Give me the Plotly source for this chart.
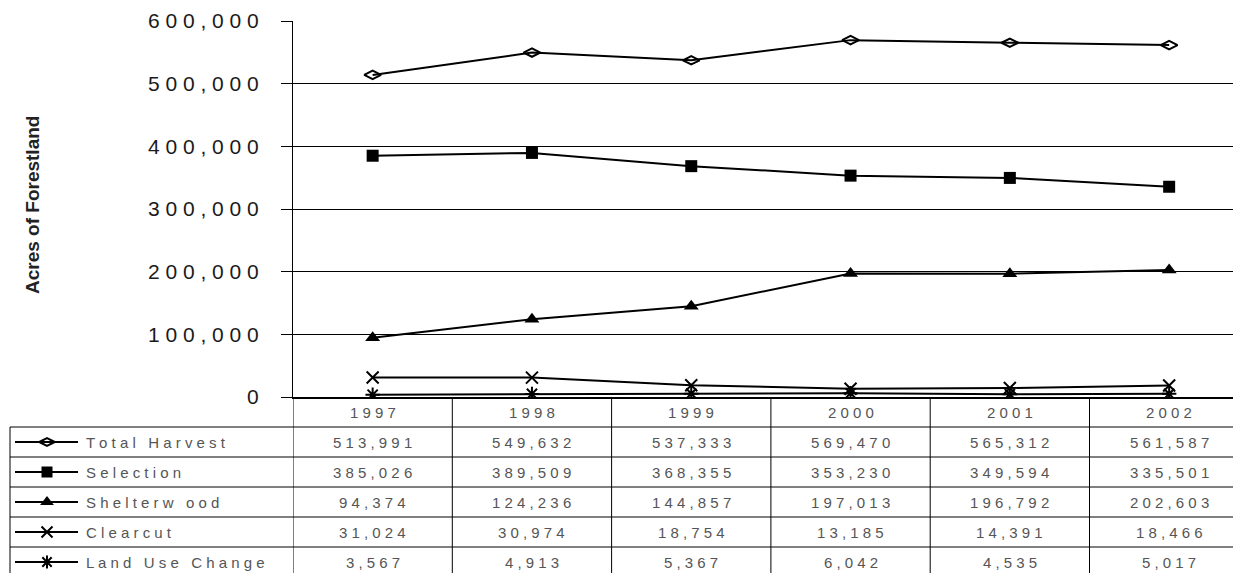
import plotly.graph_objects as go

# ---------------- data ----------------
years = ["1997", "1998", "1999", "2000", "2001", "2002"]
series_names = ["Total Harvest", "Selection", "Shelterw ood", "Clearcut", "Land Use Change"]
total_harvest = [513991, 549632, 537333, 569470, 565312, 561587]
selection = [385026, 389509, 368355, 353230, 349594, 335501]
shelterwood = [94374, 124236, 144857, 197013, 196792, 202603]
clearcut = [31024, 30974, 18754, 13185, 14391, 18466]
land_use_change = [3567, 4913, 5367, 6042, 4535, 5017]
y_ticks = [0, 100000, 200000, 300000, 400000, 500000, 600000]

series_values = [total_harvest, selection, shelterwood, clearcut, land_use_change]
symbols = ["diamond-wide-open", "square", "triangle-up", "x-thin-open", "asterisk-open"]
sizes = [12, 12, 13, 12, 12]

W, H = 1233, 573
FONT = "Arial, Liberation Sans, sans-serif"


def px(x):
    return x / W


def py(y):
    return 1 - y / H


def spaced(s):
    return " ".join(list(s))


plot_left, plot_top, plot_bottom = 293, 21, 397
header_bottom = 427
row_h = 30
legend_left = 10


def marker_style(sym, sz):
    return dict(symbol=sym, size=sz, color="black",
                line=dict(color="black", width=2 if "open" in sym else 0))


fig = go.Figure()

for name, vals, sym, sz in zip(series_names, series_values, symbols, sizes):
    fig.add_trace(go.Scatter(
        x=years, y=vals, mode="lines+markers", name=name,
        line=dict(color="black", width=2),
        marker=marker_style(sym, sz),
        showlegend=False, xaxis="x", yaxis="y",
    ))

# legend symbols inside the table (paper-like overlay axis)
for r, (name, sym, sz) in enumerate(zip(series_names, symbols, sizes)):
    yc = py(header_bottom + row_h * (r + 0.5))
    fig.add_trace(go.Scatter(
        x=[px(15), px(78)], y=[yc, yc], mode="lines",
        line=dict(color="black", width=2), showlegend=False,
        xaxis="x2", yaxis="y2", hoverinfo="skip",
    ))
    fig.add_trace(go.Scatter(
        x=[px(47)], y=[yc], mode="markers",
        marker=marker_style(sym, sz - 1),
        showlegend=False, xaxis="x2", yaxis="y2", hoverinfo="skip",
    ))

shapes = []
for r in range(5):
    yy = py(header_bottom + row_h * r)
    shapes.append(dict(type="line", xref="paper", yref="paper",
                       x0=px(legend_left), x1=1, y0=yy, y1=yy,
                       line=dict(color="black", width=1)))
shapes.append(dict(type="line", xref="paper", yref="paper",
                   x0=px(legend_left), x1=px(legend_left), y0=0, y1=py(header_bottom),
                   line=dict(color="black", width=1)))
for i in range(len(years)):
    shapes.append(dict(type="line", xref="x", yref="paper",
                       x0=i - 0.5, x1=i - 0.5, y0=0, y1=py(plot_bottom),
                       line=dict(color="black", width=1)))

annotations = []
annotations.append(dict(text="<b>Acres of Forestland</b>", xref="paper", yref="paper",
                        x=px(32), y=py(205), textangle=-90, showarrow=False,
                        xanchor="center", yanchor="middle",
                        font=dict(family=FONT, size=19, color="#222")))
for i, yr in enumerate(years):
    annotations.append(dict(text=spaced(yr), xref="x", yref="paper", x=i,
                            y=py((plot_bottom + header_bottom) / 2), showarrow=False,
                            xanchor="center", yanchor="middle",
                            font=dict(family=FONT, size=15, color="#555")))
for r, (name, vals) in enumerate(zip(series_names, series_values)):
    yc = py(header_bottom + row_h * (r + 0.5))
    annotations.append(dict(text=spaced(name), xref="paper", yref="paper",
                            x=px(84), y=yc, xanchor="left", yanchor="middle",
                            showarrow=False,
                            font=dict(family=FONT, size=15, color="#555")))
    for i, v in enumerate(vals):
        annotations.append(dict(text=spaced(f"{v:,}"), xref="x", yref="paper",
                                x=i, y=yc, showarrow=False,
                                xanchor="center", yanchor="middle",
                                font=dict(family=FONT, size=15, color="#555")))

fig.update_layout(
    width=W, height=H,
    margin=dict(l=0, r=0, t=0, b=0),
    paper_bgcolor="white", plot_bgcolor="rgba(0,0,0,0)",
    xaxis=dict(domain=[px(plot_left), 1], type="category",
               range=[-0.5, (W - plot_left) / 159.3 - 0.5],
               showticklabels=False, showgrid=False, ticks="",
               showline=True, linecolor="black", linewidth=2, zeroline=False,
               anchor="y", automargin=False),
    yaxis=dict(domain=[py(plot_bottom), py(plot_top)], range=[0, 600000],
               tickvals=y_ticks, ticktext=[spaced(f"{v:,}") for v in y_ticks],
               tickfont=dict(family=FONT, size=21, color="#1a1a1a"),
               ticks="outside", ticklen=11, tickcolor="black", tickwidth=1,
               ticklabelstandoff=18,
               showgrid=True, gridcolor="black", gridwidth=1,
               showline=True, linecolor="black", linewidth=1, zeroline=False,
               anchor="x", automargin=False),
    xaxis2=dict(domain=[0, 1], range=[0, 1], visible=False, anchor="y2"),
    yaxis2=dict(domain=[0, 1], range=[0, 1], visible=False, anchor="x2"),
    shapes=shapes,
    annotations=annotations,
)

fig.write_html("out.html", config={"displayModeBar": False},
               post_script="document.body.style.margin='0';document.body.style.overflow='hidden';")
